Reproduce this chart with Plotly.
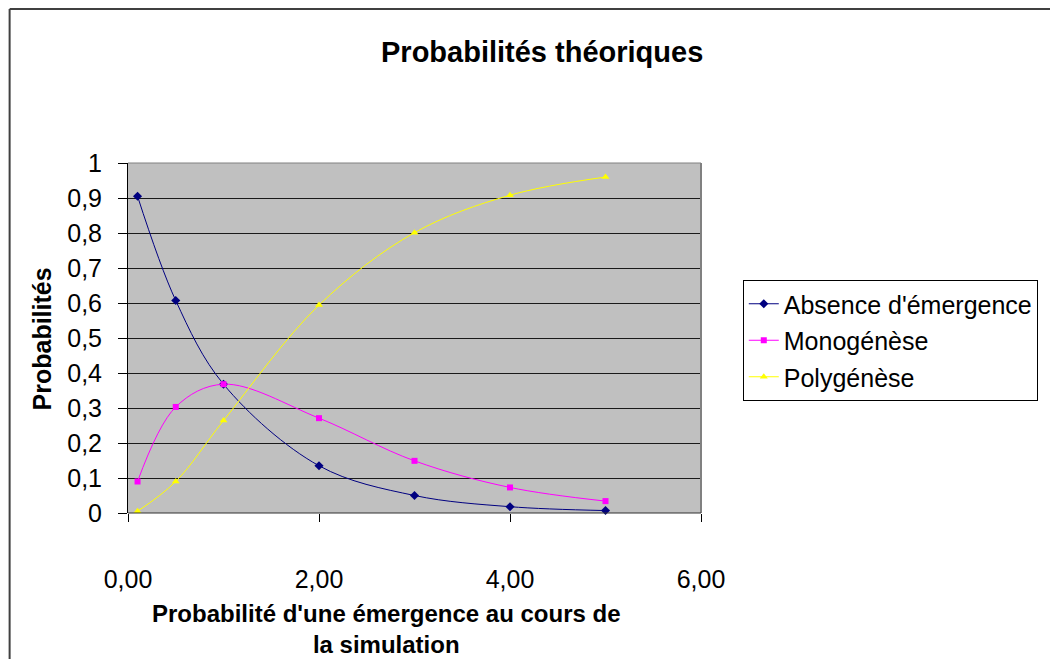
import plotly.graph_objects as go

x_vals = [0.1, 0.5, 1, 2, 3, 4, 5]
absence = [0.905, 0.607, 0.368, 0.135, 0.050, 0.018, 0.007]
mono = [0.090, 0.303, 0.368, 0.271, 0.149, 0.073, 0.034]
poly = [0.005, 0.090, 0.264, 0.594, 0.801, 0.908, 0.960]
names = ["Absence d'émergence", "Monogénèse", "Polygénèse"]

W, H = 1050, 659
L, R, T, B = 128, 704, 163, 513

def px(xp):
    return (xp - L) / (R - L)

def py(yp):
    return (B - yp) / (B - T)

fig = go.Figure()
styles = [("#000080", "diamond", 7), ("#FF00FF", "square", 6), ("#FFFF00", "triangle-up", 7)]
for i, (vals, (col, sym, sz)) in enumerate(zip([absence, mono, poly], styles)):
    fig.add_trace(go.Scatter(
        x=x_vals, y=vals, name=names[i], mode="lines+markers",
        line=dict(color=col, width=1, shape="spline", smoothing=1.0),
        marker=dict(color=col, symbol=sym, size=sz),
        legendgroup=str(i), cliponaxis=False,
    ))

fig.update_layout(
    width=W, height=H,
    margin=dict(l=L, r=W - R, t=T, b=H - B),
    paper_bgcolor="white", plot_bgcolor="#c0c0c0",
    separators=", ",
    font=dict(family="Liberation Sans, Arial", color="black"),
    showlegend=True,
    legend=dict(x=px(746), y=py(280), xanchor="left", yanchor="top",
                bordercolor="black", borderwidth=1, bgcolor="white",
                font=dict(size=25), tracegroupgap=1,
                itemwidth=30),
    xaxis=dict(range=[0, 6], tickvals=[0, 2, 4, 6], tickformat=".2f",
               ticks="outside", ticklen=8, tickcolor="black",
               showgrid=False, zeroline=False, showline=False,
               tickfont=dict(size=25), ticklabelstandoff=36),
    yaxis=dict(range=[0, 1], dtick=0.1, ticks="outside", ticklen=9,
               tickcolor="black", showgrid=True, gridcolor="#1a1a1a",
               gridwidth=1, zeroline=False, showline=True, linecolor="black",
               tickfont=dict(size=25), ticklabelstandoff=11),
    shapes=[
        dict(type="line", xref="paper", yref="paper", x0=1, x1=1, y0=0, y1=1,
             line=dict(color="#808080", width=2)),
        dict(type="line", xref="paper", yref="paper", x0=0, x1=1, y0=1, y1=1,
             line=dict(color="#808080", width=1)),
        dict(type="line", xref="paper", yref="paper", x0=0, x1=1, y0=0, y1=0,
             line=dict(color="#303030", width=1)),
        dict(type="line", xref="paper", yref="paper", x0=px(9), y0=py(9),
             x1=px(1060), y1=py(9), line=dict(color="#404040", width=2),
             layer="above"),
        dict(type="line", xref="paper", yref="paper", x0=px(9), y0=py(9),
             x1=px(9), y1=py(670), line=dict(color="#404040", width=2),
             layer="above"),
    ],
    annotations=[
        dict(text="<b>Probabilités théoriques</b>", xref="paper", yref="paper",
             x=px(544), y=py(52), showarrow=False, font=dict(size=29),
             xanchor="center", yanchor="middle"),
        dict(text="<b>Probabilités</b>", xref="paper", yref="paper",
             x=px(42), y=py(339), showarrow=False, font=dict(size=25),
             textangle=-90, xanchor="center", yanchor="middle"),
        dict(text="<b>Probabilité d'une émergence au cours de<br>la simulation</b>",
             xref="paper", yref="paper", x=px(388), y=py(629), showarrow=False,
             font=dict(size=24), xanchor="center", yanchor="middle"),
    ],
)

fig.write_html("out.html")
